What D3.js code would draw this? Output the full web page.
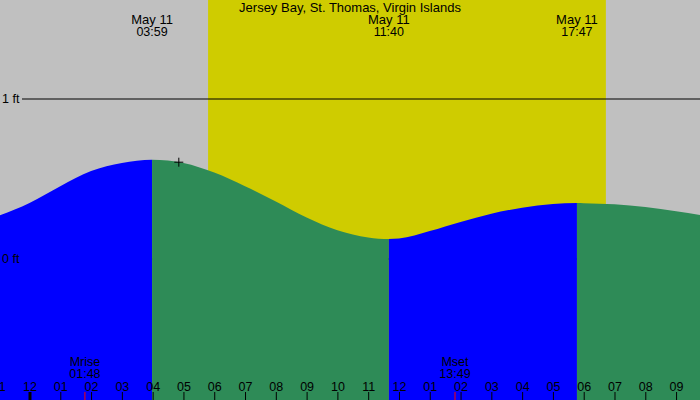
<!DOCTYPE html>
<html>
<head>
<meta charset="utf-8">
<title>Jersey Bay tide chart</title>
<script src="https://d3js.org/d3.v7.min.js"></script>
<style>
  body { margin: 0; }
  svg { display: block; font-family: "Liberation Sans", Arial, sans-serif; }
</style>
</head>
<body>
<script>

var w = 700;
var h = 400;

var title = "Jersey Bay, St. Thomas, Virgin Islands";

// tide curve, hours from midnight May 11 -> height in ft
var tideHours   = [-1, 0, 1, 2, 3, 3.98, 5, 6, 7, 8, 9, 10, 11, 11.67, 12, 13, 14, 15, 16, 17, 17.78, 18, 19, 20, 21, 22];
var tideHeights = [0.27, 0.35, 0.455, 0.55, 0.60, 0.62, 0.60, 0.54, 0.455, 0.36, 0.26, 0.18, 0.135, 0.125, 0.128, 0.175, 0.232, 0.283, 0.32, 0.343, 0.35, 0.349, 0.342, 0.325, 0.298, 0.268];

// high / low events
var eventHours = [3.98, 11.67, 17.78];
var eventDates = ["May 11", "May 11", "May 11"];
var eventTimes = ["03:59", "11:40", "17:47"];
var firstRising = true; // tide rising before the first event

// sun
var sunriseHour = 5.8;
var sunsetHour = 18.72;

// moon
var moonHours = [1.8, 13.82];
var moonNames = ["Mrise", "Mset"];
var moonTimes = ["01:48", "13:49"];

// current time marker
var nowHour = 4.85;
var nowHeight = 0.605;

// hour axis
var hourTicks  = [-1, 0, 1, 2, 3, 4, 5, 6, 7, 8, 9, 10, 11, 12, 13, 14, 15, 16, 17, 18, 19, 20, 21];
var hourLabels = ["11", "12", "01", "02", "03", "04", "05", "06", "07", "08", "09", "10", "11", "12", "01", "02", "03", "04", "05", "06", "07", "08", "09"];

// height grid
var levels = [0, 1];
var levelLabels = ["0 ft", "1 ft"];

var x = d3.scaleLinear().domain([-0.958, 21.777]).range([0, w]);
var y = d3.scaleLinear().domain([0, 1]).range([259, 99]);

var svg = d3.select("body").append("svg").attr("width", w).attr("height", h);

// night background + daylight band
svg.append("rect").attr("width", w).attr("height", h).attr("fill", "#c0c0c0");
svg.append("rect")
  .attr("x", x(sunriseHour)).attr("y", 0)
  .attr("width", x(sunsetHour) - x(sunriseHour)).attr("height", h)
  .attr("fill", "#cfcc00");

// grid lines
svg.selectAll("line.grid").data(levels).enter().append("line")
  .attr("class", "grid")
  .attr("x1", 22).attr("x2", w)
  .attr("y1", function(d) { return y(d); })
  .attr("y2", function(d) { return y(d); })
  .attr("stroke", "black");

// water, split into rising (blue) and falling (green) pieces
var tide = tideHours.map(function(d, i) { return [d, tideHeights[i]]; });
var area = d3.area()
  .x(function(d) { return x(d[0]); })
  .y0(h)
  .y1(function(d) { return y(d[1]); })
  .curve(d3.curveMonotoneX);

var bounds = [x.domain()[0]].concat(eventHours, [x.domain()[1]]);
var segs = [];
for (var i = 0; i < bounds.length - 1; i++) {
  var rising = (i % 2 == 0) == firstRising;
  segs.push({ a: bounds[i], b: bounds[i + 1], color: rising ? "#0000ff" : "#2e8b57" });
}

var defs = svg.append("defs");
segs.forEach(function(s, i) {
  defs.append("clipPath").attr("id", "seg" + i).append("rect")
    .attr("x", x(s.a)).attr("y", 0)
    .attr("width", x(s.b) - x(s.a)).attr("height", h);
  svg.append("path").datum(tide)
    .attr("d", area)
    .attr("fill", s.color)
    .attr("clip-path", "url(#seg" + i + ")");
});

// level labels
svg.selectAll("text.level").data(levels).enter().append("text")
  .attr("class", "level")
  .attr("x", 2)
  .attr("y", function(d) { return y(d); })
  .attr("dy", "0.35em")
  .attr("font-size", "12.5px")
  .text(function(d, i) { return levelLabels[i]; });

// title
svg.append("text")
  .attr("x", w / 2).attr("y", 12)
  .attr("text-anchor", "middle")
  .attr("font-size", "13px")
  .text(title);

// event labels
var ev = svg.selectAll("g.event").data(eventHours).enter().append("g")
  .attr("class", "event")
  .attr("transform", function(d) { return "translate(" + x(d) + ",0)"; });
ev.append("text").attr("y", 24).attr("text-anchor", "middle").attr("font-size", "13px")
  .text(function(d, i) { return eventDates[i]; });
ev.append("text").attr("y", 36).attr("text-anchor", "middle").attr("font-size", "12.5px")
  .text(function(d, i) { return eventTimes[i]; });

// moon labels + red ticks
var mo = svg.selectAll("g.moon").data(moonHours).enter().append("g")
  .attr("class", "moon")
  .attr("transform", function(d) { return "translate(" + x(d) + ",0)"; });
mo.append("text").attr("y", 366).attr("text-anchor", "middle").attr("font-size", "12.5px")
  .text(function(d, i) { return moonNames[i]; });
mo.append("text").attr("y", 377.5).attr("text-anchor", "middle").attr("font-size", "12.5px")
  .text(function(d, i) { return moonTimes[i]; });
mo.append("line").attr("y1", 392).attr("y2", h).attr("stroke", "red");

// hour axis along the bottom
var axis = d3.axisTop(x)
  .tickValues(hourTicks)
  .tickFormat(function(d, i) { return hourLabels[i]; })
  .tickSize(8)
  .tickPadding(1);
var gx = svg.append("g").attr("transform", "translate(0," + h + ")").call(axis);
gx.select(".domain").remove();
gx.selectAll("text").attr("font-size", "12.5px").attr("font-family", null).attr("fill", "black");
gx.selectAll("line").attr("stroke", "black");
gx.selectAll(".tick").filter(function(d) { return d == 0; }).select("line").attr("stroke-width", 3);

// current time marker
svg.append("path")
  .attr("d", "M" + (x(nowHour) - 4.5) + "," + y(nowHeight) + "h9M" + x(nowHour) + "," + (y(nowHeight) - 4.5) + "v9")
  .attr("stroke", "black")
  .attr("fill", "none");

</script>
</body>
</html>
